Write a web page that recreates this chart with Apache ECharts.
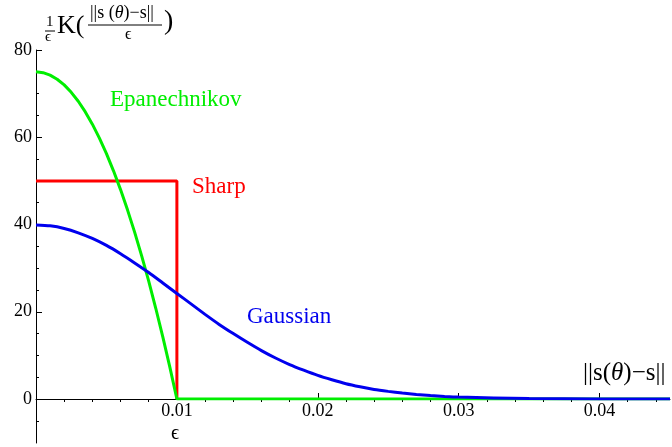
<!DOCTYPE html>
<html>
<head>
<meta charset="utf-8">
<script src="https://cdn.jsdelivr.net/npm/echarts@6/dist/echarts.min.js"></script>
<style>
  html, body { margin: 0; padding: 0; background: #fff; }
  #chart { width: 672px; height: 447px; }
</style>
</head>
<body>
<div id="chart"></div>
<script>
// kernel curves
const gaussX = [0, 0.001, 0.002, 0.003, 0.004, 0.005, 0.006, 0.007, 0.008, 0.009,
  0.010, 0.011, 0.012, 0.013, 0.014, 0.015, 0.016, 0.017, 0.018, 0.019,
  0.020, 0.021, 0.022, 0.023, 0.024, 0.025, 0.026, 0.027, 0.028, 0.029,
  0.030, 0.035, 0.040, 0.045]
const gaussY = [39.9, 39.7, 39.1, 38.1, 36.8, 35.2, 33.3, 31.2, 29.0, 26.6,
  24.2, 21.8, 19.4, 17.1, 15.0, 13.0, 11.1, 9.4, 7.9, 6.6,
  5.4, 4.4, 3.5, 2.8, 2.2, 1.75, 1.36, 1.04, 0.79, 0.59,
  0.44, 0.09, 0.01, 0]
const epanX = [0, 0.0005, 0.001, 0.0015, 0.002, 0.0025, 0.003, 0.0035, 0.004, 0.0045,
  0.005, 0.0055, 0.006, 0.0065, 0.007, 0.0075, 0.008, 0.0085, 0.009, 0.0095, 0.010, 0.045]
const epanY = [75, 74.8, 74.25, 73.3, 72, 70.3, 68.25, 65.8, 63, 59.8,
  56.25, 52.3, 48, 43.3, 38.25, 32.8, 27, 20.8, 14.25, 7.3, 0, 0]
const sharpX = [0, 0.010, 0.010]
const sharpY = [50, 50, 0]

const xMajor = [0.01, 0.02, 0.03, 0.04]
const xMinor = [0.002, 0.004, 0.006, 0.008, 0.012, 0.014, 0.016, 0.018,
  0.022, 0.024, 0.026, 0.028, 0.032, 0.034, 0.036, 0.038, 0.042, 0.044]
const yMajor = [0, 20, 40, 60, 80]
const yMinor = [5, 10, 15, 25, 30, 35, 45, 50, 55, 65, 70, 75]
const yBelowMinor = [-5]

const pairs = (xs, ys) => xs.map((x, i) => [x, ys[i]])

const serif = 'Liberation Serif'
const chart = echarts.init(document.getElementById('chart'))

const black = { color: '#000', width: 1 }
const baseX = {
  type: 'value', min: 0, max: 0.045, gridIndex: 0,
  axisLine: { onZero: false, lineStyle: black },
  splitLine: { show: false }
}
const baseY = {
  type: 'value', min: 0, max: 80, gridIndex: 0,
  axisLine: { show: true, onZero: false, lineStyle: black },
  splitLine: { show: false }
}

const option = {
  animation: false,
  grid: [
    // main plot, y from 0 to 80
    { left: 36, right: 2, top: 50, bottom: 48, containLabel: false },
    // the y axis carries on below zero down to -10
    { left: 36, right: 2, top: 399, bottom: 4, containLabel: false, outerBoundsMode: 'none' }
  ],
  xAxis: [
    Object.assign({}, baseX, {
      axisTick: { inside: true, length: 6, customValues: xMajor, lineStyle: { color: '#000' } },
      axisLabel: {
        customValues: xMajor, margin: 3,
        fontFamily: serif, fontSize: 18, color: '#000',
        formatter: v => v.toFixed(2)
      }
    }),
    Object.assign({}, baseX, {
      axisLine: { show: false },
      axisTick: { inside: true, length: 3, customValues: xMinor, lineStyle: { color: '#000' } },
      axisLabel: { show: false }
    }),
    { type: 'value', gridIndex: 1, min: 0, max: 0.045, show: false }
  ],
  yAxis: [
    Object.assign({}, baseY, {
      axisTick: { inside: true, length: 6, customValues: yMajor, lineStyle: { color: '#000' } },
      axisLabel: {
        customValues: yMajor, margin: 4,
        fontFamily: serif, fontSize: 18, color: '#000'
      }
    }),
    Object.assign({}, baseY, {
      position: 'left',
      axisLine: { show: false },
      axisTick: { inside: true, length: 3, customValues: yMinor, lineStyle: { color: '#000' } },
      axisLabel: { show: false }
    }),
    {
      type: 'value', gridIndex: 1, min: -10, max: 0,
      axisLine: { show: true, onZero: false, lineStyle: black },
      axisTick: { inside: true, length: 3, customValues: yBelowMinor, lineStyle: { color: '#000' } },
      axisLabel: { show: false },
      splitLine: { show: false }
    }
  ],
  series: [
    {
      name: 'Sharp', type: 'line', showSymbol: false,
      data: pairs(sharpX, sharpY),
      lineStyle: { color: '#ff0000', width: 3 }
    },
    {
      name: 'Epanechnikov', type: 'line', showSymbol: false,
      data: pairs(epanX, epanY),
      lineStyle: { color: '#00ee00', width: 3 }
    },
    {
      name: 'Gaussian', type: 'line', showSymbol: false, smooth: 0.25,
      data: pairs(gaussX, gaussY),
      lineStyle: { color: '#0000ee', width: 3 }
    }
  ],
  graphic: [
    // curve names
    { type: 'text', left: 110, top: 88, style: { text: 'Epanechnikov', fontFamily: serif, fontSize: 23, fill: '#00ee00' } },
    { type: 'text', left: 192, top: 175, style: { text: 'Sharp', fontFamily: serif, fontSize: 23, fill: '#ff0000' } },
    { type: 'text', left: 247, top: 305, style: { text: 'Gaussian', fontFamily: serif, fontSize: 23, fill: '#0000ee' } },
    // axis names
    {
      type: 'text', left: 583, top: 361,
      style: {
        text: '||s({i|θ})−s||', fontFamily: serif, fontSize: 25, fill: '#000',
        rich: { i: { fontFamily: serif, fontStyle: 'italic', fontSize: 25, fill: '#000' } }
      }
    },
    { type: 'text', left: 171, top: 424, style: { text: 'ϵ', fontFamily: serif, fontSize: 20, fill: '#000' } },
    // y axis title: 1/ϵ K( ||s(θ)−s|| / ϵ )
    { type: 'text', left: 46, top: 15, style: { text: '1', fontFamily: serif, fontSize: 15, fill: '#000' } },
    { type: 'line', shape: { x1: 45, y1: 31, x2: 55, y2: 31 }, style: { stroke: '#000', lineWidth: 1 } },
    { type: 'text', left: 45, top: 30, style: { text: 'ϵ', fontFamily: serif, fontSize: 15, fill: '#000' } },
    { type: 'text', left: 57, top: 13, style: { text: 'K(', fontFamily: serif, fontSize: 26, fill: '#000' } },
    {
      type: 'text', left: 90, top: 4,
      style: {
        text: '||s ({i|θ})−s||', fontFamily: serif, fontSize: 18, fill: '#000',
        rich: { i: { fontFamily: serif, fontStyle: 'italic', fontSize: 18, fill: '#000' } }
      }
    },
    { type: 'line', shape: { x1: 88, y1: 25, x2: 162, y2: 25 }, style: { stroke: '#000', lineWidth: 1 } },
    { type: 'text', left: 125, top: 27, style: { text: 'ϵ', fontFamily: serif, fontSize: 16, fill: '#000' } },
    { type: 'text', left: 164, top: 8, style: { text: ')', fontFamily: serif, fontSize: 28, fill: '#000' } }
  ]
}
chart.setOption(option)
</script>
</body>
</html>
